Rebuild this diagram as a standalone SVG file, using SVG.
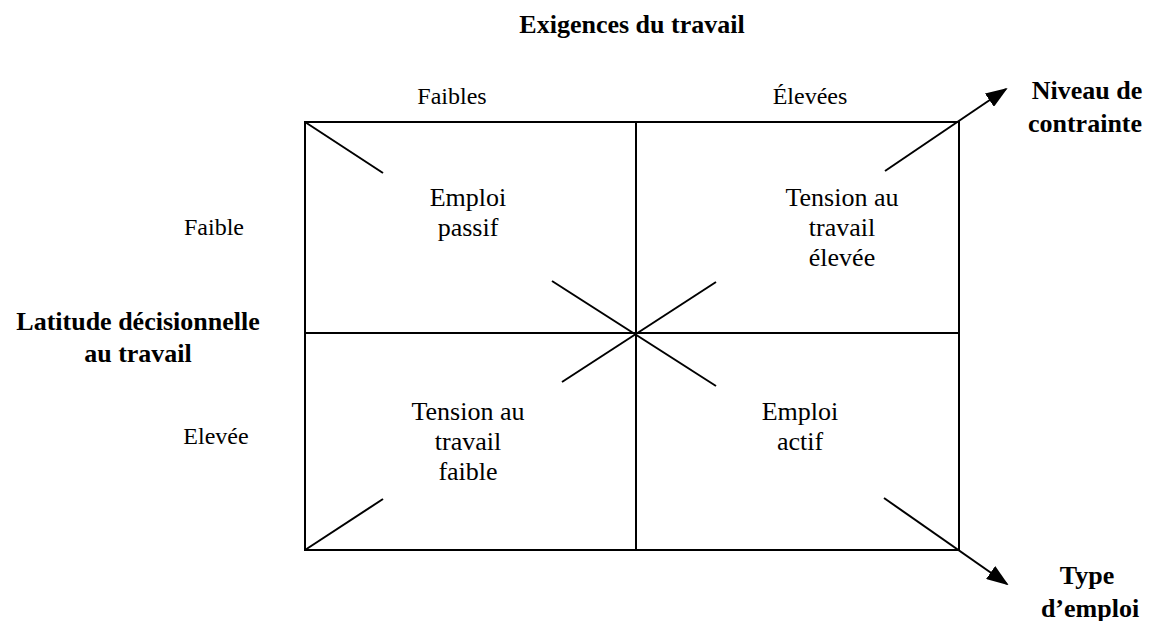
<svg xmlns="http://www.w3.org/2000/svg" width="1153" height="621" viewBox="0 0 1153 621">
<style>
text{font-family:'Liberation Serif','Times New Roman',Times,serif;fill:#000;text-anchor:middle}
.b{font-weight:bold;font-size:26px}
.l{font-size:24px}
.c{font-size:26px}
.ln{stroke:#000;stroke-width:2;fill:none}
</style>
<defs>
<marker id="ah" markerUnits="userSpaceOnUse" markerWidth="22" markerHeight="16" viewBox="0 0 22 16" refX="20" refY="8" orient="auto">
<path d="M0,0 L22,8 L0,16 Z" fill="#000"/>
</marker>
</defs>
<rect width="1153" height="621" fill="#fff"/>
<g id="titles">
<text class="b" x="632" y="33">Exigences du travail</text>
<text class="l" x="452" y="104">Faibles</text>
<text class="l" x="810" y="104">Élevées</text>
<text class="l" x="214" y="235">Faible</text>
<text class="l" x="216" y="444">Elevée</text>
<text class="b" x="138" y="330">Latitude décisionnelle</text>
<text class="b" x="138" y="362">au travail</text>
<text class="b" x="1087" y="99">Niveau de</text>
<text class="b" x="1085" y="132">contrainte</text>
<text class="b" x="1087" y="584">Type</text>
<text class="b" x="1090" y="617">d’emploi</text>
</g>
<g id="grid">
<rect class="ln" x="305" y="122" width="654" height="428"/>
<line class="ln" x1="636" y1="122" x2="636" y2="550"/>
<line class="ln" x1="305" y1="333" x2="959" y2="333"/>
</g>
<g id="q-passif">
<text class="c" x="468" y="206">Emploi</text>
<text class="c" x="468" y="236">passif</text>
</g>
<g id="q-tension-elevee">
<text class="c" x="842" y="206">Tension au</text>
<text class="c" x="842" y="236">travail</text>
<text class="c" x="842" y="266">élevée</text>
</g>
<g id="q-tension-faible">
<text class="c" x="468" y="420">Tension au</text>
<text class="c" x="468" y="450">travail</text>
<text class="c" x="468" y="480">faible</text>
</g>
<g id="q-actif">
<text class="c" x="800" y="420">Emploi</text>
<text class="c" x="800" y="450">actif</text>
</g>
<g id="connectors">
<line class="ln" x1="305" y1="122" x2="383" y2="173"/>
<line class="ln" x1="305" y1="550" x2="383" y2="499"/>
<line class="ln" x1="552" y1="281" x2="716" y2="386"/>
<line class="ln" x1="562" y1="382" x2="716" y2="282"/>
<line class="ln" x1="885" y1="171" x2="1006" y2="89" marker-end="url(#ah)"/>
<line class="ln" x1="884" y1="498" x2="1007" y2="584" marker-end="url(#ah)"/>
</g>
</svg>
